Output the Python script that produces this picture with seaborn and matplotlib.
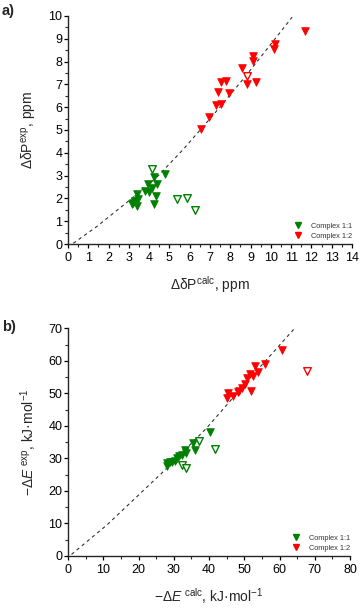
import numpy as np
import pandas as pd
import matplotlib
matplotlib.use("Agg")
import matplotlib.pyplot as plt
import matplotlib.lines as mlines
import seaborn as sns

# ── DATA ─────────────────────────────────────────────────────────────────────
# panel a) chemical shifts, ppm
a_11_x = [4.25, 4.78, 3.96, 4.40, 4.15, 3.80, 4.00, 4.33, 3.38, 3.43, 3.22, 3.15, 3.38, 4.25, 3.30]
a_11_y = [2.95, 3.06, 2.62, 2.63, 2.44, 2.34, 2.27, 2.10, 2.19, 1.97, 1.82, 1.76, 1.68, 1.74, 1.90]
a_11_open_x = [4.12, 5.35, 5.85, 6.27]
a_11_open_y = [3.28, 1.96, 2.03, 1.50]
a_12_x = [11.67, 10.20, 10.15, 9.10, 9.13, 8.60, 8.83, 9.29, 7.52, 7.77, 7.41, 7.93, 7.32, 7.52, 6.96, 6.58]
a_12_y = [9.36, 8.76, 8.54, 8.25, 8.04, 7.70, 7.00, 7.09, 7.12, 7.16, 6.65, 6.64, 6.10, 6.13, 5.58, 5.03]
a_12_open_x = [8.83]
a_12_open_y = [7.37]
a_fit_x = [0.26, 1.41, 3.05, 4.40, 5.65, 7.20, 8.80, 11.05]
a_fit_y = [0.03, 0.76, 1.93, 2.95, 4.12, 5.70, 7.41, 9.95]

# panel b) interaction energies, kJ/mol
b_11_x = [40.4, 35.5, 35.9, 33.2, 33.4, 32.2, 31.0, 30.3, 29.4, 28.1, 28.0, 29.0, 31.6]
b_11_y = [38.1, 34.7, 32.5, 32.7, 31.7, 30.9, 30.1, 29.2, 29.0, 28.5, 27.6, 28.8, 30.6]
b_11_open_x = [41.8, 37.2, 32.2, 33.4]
b_11_open_y = [32.9, 35.2, 27.9, 27.1]
b_12_x = [60.6, 55.9, 53.0, 53.8, 52.6, 51.6, 50.9, 50.2, 49.3, 48.4, 48.1, 51.8, 45.4, 46.8, 45.0]
b_12_y = [63.3, 58.9, 58.5, 56.7, 55.3, 55.8, 54.7, 53.0, 51.7, 50.8, 50.4, 50.7, 50.0, 49.2, 48.5]
b_12_open_x = [67.7]
b_12_open_y = [57.0]
b_fit_x = [1.0, 11.0, 27.0, 39.3, 51.1, 64.3]
b_fit_y = [0.5, 9.5, 25.9, 39.3, 54.0, 70.0]

GREEN = "#008000"
RED = "#ff0000"

sns.set_style("ticks")
plt.rcParams["font.family"] = ["Liberation Sans", "DejaVu Sans"]
plt.rcParams["mathtext.fontset"] = "custom"
plt.rcParams["mathtext.rm"] = "Liberation Sans"
plt.rcParams["mathtext.it"] = "Liberation Sans:italic"
plt.rcParams["mathtext.bf"] = "Liberation Sans:bold"

fig = plt.figure(figsize=(3.6, 6.08), dpi=100)
ax_a = fig.add_axes([68 / 360, 1 - 244 / 608, 284 / 360, 228 / 608])
ax_b = fig.add_axes([68 / 360, 1 - 556 / 608, 282 / 360, 227.7 / 608])


def draw_panel(ax, fit_x, fit_y, g_x, g_y, go_x, go_y, r_x, r_y, ro_x, ro_y):
    ax.plot(fit_x, fit_y, color="#333333", linestyle=(0, (3, 3)), linewidth=0.8, zorder=1)
    ms = 30
    sns.scatterplot(x=g_x, y=g_y, marker="v", color=GREEN, edgecolor=GREEN,
                    linewidth=0.6, s=ms, ax=ax, zorder=3)
    sns.scatterplot(x=go_x, y=go_y, marker="v", color="white", edgecolor=GREEN,
                    linewidth=1.0, s=ms, ax=ax, zorder=3)
    sns.scatterplot(x=r_x, y=r_y, marker="v", color=RED, edgecolor=RED,
                    linewidth=0.6, s=ms, ax=ax, zorder=3)
    sns.scatterplot(x=ro_x, y=ro_y, marker="v", color="white", edgecolor=RED,
                    linewidth=1.0, s=ms, ax=ax, zorder=3)
    sns.despine(ax=ax)
    for sp in ["left", "bottom"]:
        ax.spines[sp].set_linewidth(1.0)
    ax.tick_params(axis="both", which="major", direction="out", length=3, width=0.9,
                   labelsize=9, colors="black")
    ax.tick_params(axis="both", which="minor", direction="out", length=2, width=0.8)
    ax.tick_params(axis="y", which="major", pad=1)
    ax.tick_params(axis="x", which="major", pad=3)
    h1 = mlines.Line2D([], [], color=GREEN, marker="v", linestyle="none", markersize=4.5,
                       label="Complex 1:1")
    h2 = mlines.Line2D([], [], color=RED, marker="v", linestyle="none", markersize=4.5,
                       label="Complex 1:2")
    ax.legend(handles=[h1, h2], loc="lower right", frameon=False, fontsize=5.3,
              labelcolor="#333333", handletextpad=0.8, borderaxespad=0.3,
              labelspacing=0.45, bbox_to_anchor=(1.02, -0.005))


draw_panel(ax_a, a_fit_x, a_fit_y, a_11_x, a_11_y, a_11_open_x, a_11_open_y,
           a_12_x, a_12_y, a_12_open_x, a_12_open_y)
ax_a.set_xlim(0, 14)
ax_a.set_ylim(0, 10)
ax_a.set_xticks(np.arange(0, 15, 1))
ax_a.set_xticks(np.arange(0, 14.5, 0.5), minor=True)
ax_a.set_yticks(np.arange(0, 11, 1))
ax_a.set_yticks(np.arange(0, 10.5, 0.5), minor=True)
ax_a.set_xlabel(r"ΔδP$^{\mathregular{calc}}$, ppm", fontsize=10, labelpad=7)
ax_a.set_ylabel(r"ΔδP$^{\mathregular{exp}}$, ppm", fontsize=10, labelpad=7)

draw_panel(ax_b, b_fit_x, b_fit_y, b_11_x, b_11_y, b_11_open_x, b_11_open_y,
           b_12_x, b_12_y, b_12_open_x, b_12_open_y)
ax_b.set_xlim(0, 80)
ax_b.set_ylim(0, 70)
ax_b.set_xticks(np.arange(0, 81, 10))
ax_b.set_xticks(np.arange(0, 81, 5), minor=True)
ax_b.set_yticks(np.arange(0, 71, 10))
ax_b.set_yticks(np.arange(0, 71, 5), minor=True)
ax_b.set_xlabel(r"$-\Delta\mathit{E}^{\mathregular{\ calc}}$, kJ·mol$^{\mathregular{-1}}$",
                fontsize=10, labelpad=7)
ax_b.set_ylabel(r"$-\Delta\mathit{E}^{\mathregular{\ exp}}$, kJ·mol$^{\mathregular{-1}}$",
                fontsize=10, labelpad=7)

fig.text(2 / 360, 1 - 11 / 608, "a)", fontsize=10.5, fontweight="bold", va="center", ha="left")
fig.text(2 / 360, 1 - 327 / 608, "b)", fontsize=10.5, fontweight="bold", va="center", ha="left")

fig.savefig("out.png", dpi=100)
